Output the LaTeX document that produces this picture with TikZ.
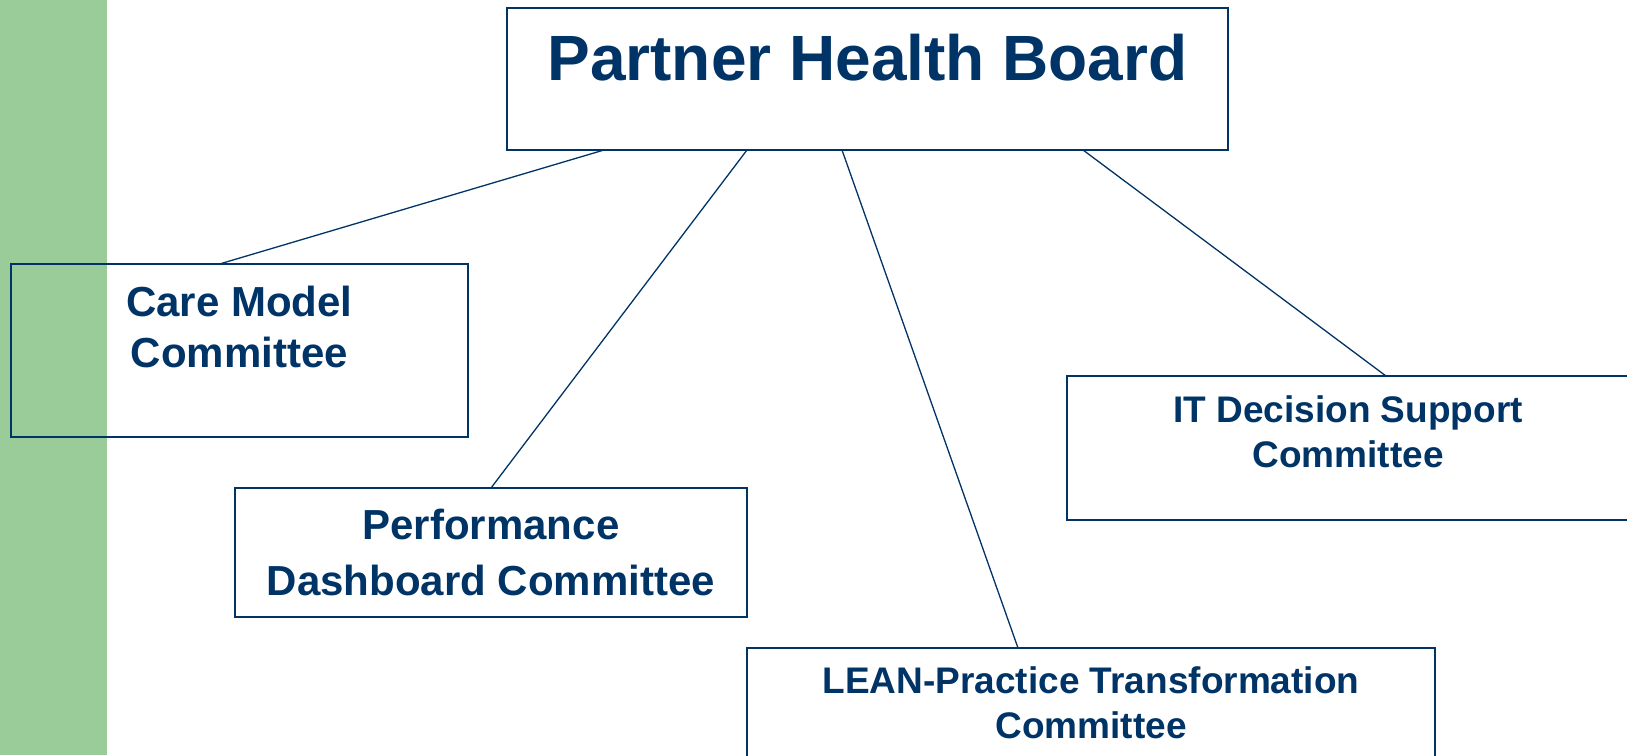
\documentclass[tikz,border=0pt]{standalone}
\usepackage{fontspec}
\setmainfont{Liberation Sans}
\usetikzlibrary{positioning}
\definecolor{boardblue}{RGB}{0,51,102}
\definecolor{sidegreen}{RGB}{153,204,153}

\begin{document}
\begin{tikzpicture}[x=1pt,y=-1pt,
    box/.style={draw=boardblue,line width=2pt,anchor=north west,inner sep=0pt,outer sep=0pt},
    txt/.style={text=boardblue,align=center,anchor=base,inner sep=0pt},
    big/.style={font=\fontsize{64}{77}\selectfont\bfseries},
    mid/.style={font=\fontsize{42}{#1}\selectfont\bfseries},
    small/.style={font=\fontsize{37}{45}\selectfont\bfseries},
    link/.style={draw=boardblue,line width=1.3pt}]

  \useasboundingbox (0,0) rectangle (1627,755);
  \fill[sidegreen] (0,0) rectangle (107,755);

  % boxes
  \node[box,minimum width=721pt,minimum height=142pt] (phb) at (507,8) {};
  \node[box,minimum width=457pt,minimum height=173pt] (care) at (11,264) {};
  \node[box,minimum width=512pt,minimum height=129pt] (perf) at (235,488) {};
  \node[box,minimum width=563pt,minimum height=144pt] (itds) at (1067,376) {};
  \node[box,minimum width=688pt,minimum height=112pt] (lean) at (747,648) {};

  % texts (base = last line)
  \node[txt,big] (phbtxt) at (867.5,80) {Partner Health Board};
  \node[txt,mid=51] (caretxt) at (239.5,367) {Care Model\\Committee};
  \node[txt,mid=56] (perftxt) at (491,595) {Performance\\Dashboard Committee};
  \node[txt,small] (itdstxt) at (1348,467) {IT Decision Support\\Committee};
  \node[txt,small] (leantxt) at (1091,738) {LEAN-Practice Transformation\\Committee};

  \path[link] ([xshift=97pt]phb.south west) edge ([xshift=-20pt]care.north)
              ([xshift=240pt]phb.south west) edge (perf.north)
              ([xshift=335pt]phb.south west) edge ([xshift=-73pt]lean.north)
              ([xshift=576pt]phb.south west) edge ([xshift=319pt]itds.north west);

\end{tikzpicture}
\end{document}
